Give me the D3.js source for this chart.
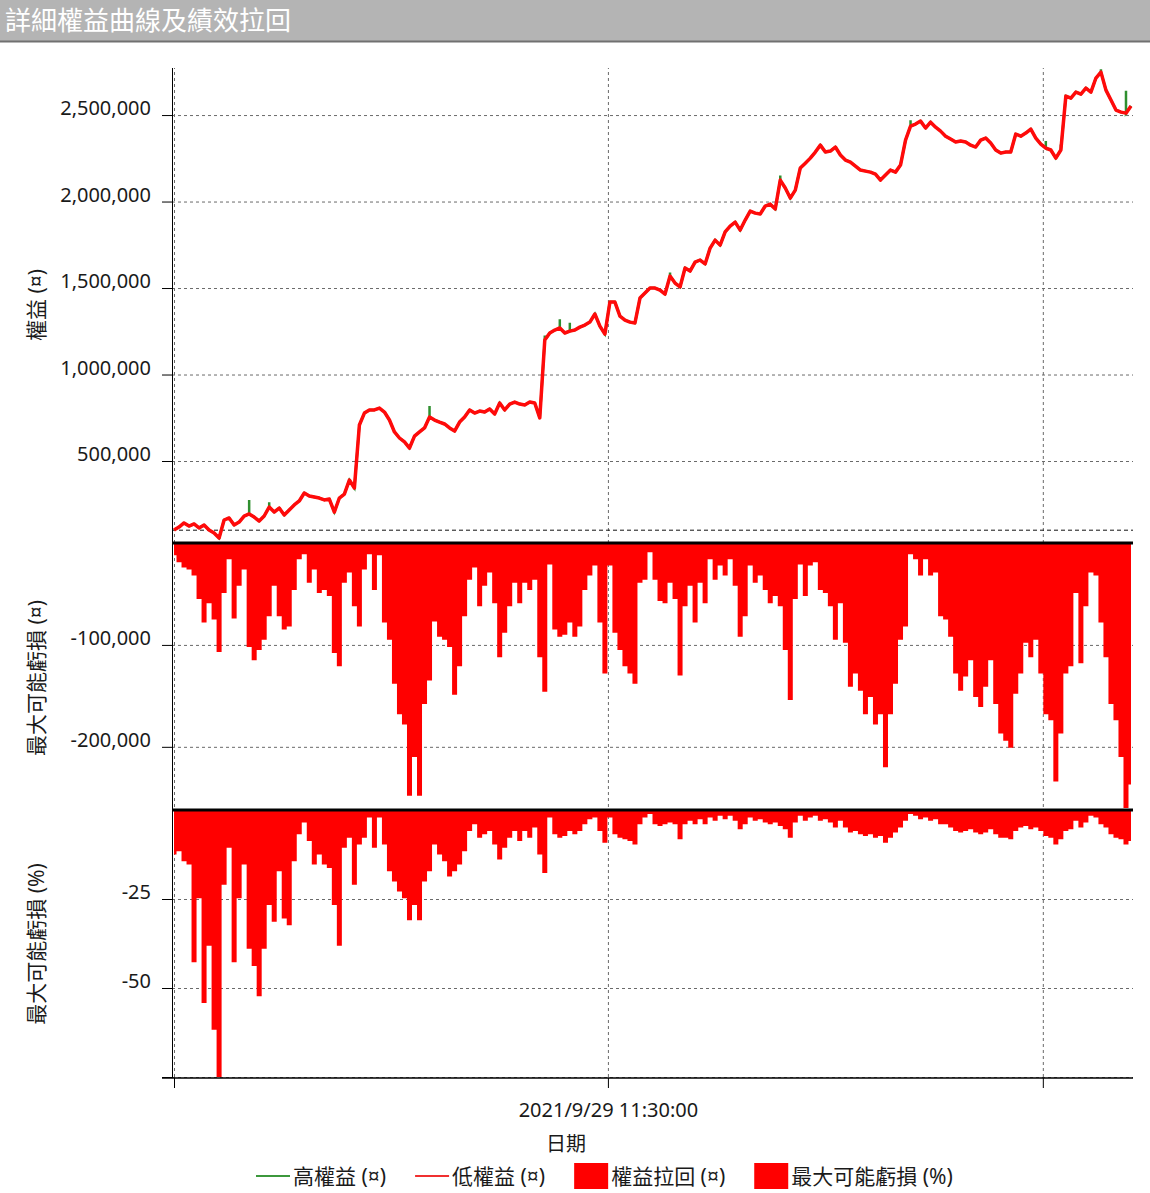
<!DOCTYPE html>
<html>
<head>
<meta charset="utf-8">
<script src="https://cdn.jsdelivr.net/npm/d3@7"></script>
<style>
  body { margin: 0; background: #fff; }
  text { font-family: "Noto Sans", "Noto Sans CJK TC", sans-serif; fill: #1a1a1a; }
</style>
</head>
<body>
<div id="chart"></div>
<script>
// equity (low) per trade, in thousands
let lowEquityK = [101,118,142,124,136,113,130,101,84,55,
    159,171,130,147,182,194,176,153,182,234,
    205,228,188,217,246,269,315,298,292,286,
    275,280,205,286,309,390,344,708,777,795,
    795,806,783,737,668,633,610,575,644,668,
    691,754,737,725,714,691,673,725,754,795,
    777,789,783,801,772,835,795,829,841,829,
    824,841,835,749,1199,1240,1257,1269,1240,1251,
    1257,1274,1286,1303,1350,1280,1234,1419,1419,1338,
    1315,1303,1298,1442,1471,1500,1500,1488,1465,1569,
    1529,1506,1616,1598,1650,1662,1639,1731,1777,1748,
    1824,1858,1881,1835,1893,1945,1933,1928,1974,1985,
    1957,2124,2078,2020,2066,2194,2222,2251,2286,2326,
    2286,2292,2315,2269,2240,2228,2205,2182,2176,2170,
    2159,2124,2153,2182,2170,2211,2355,2436,2448,2465,
    2425,2459,2430,2407,2378,2361,2344,2350,2344,2326,
    2315,2355,2367,2338,2298,2280,2286,2286,2390,2378,
    2396,2419,2367,2332,2309,2298,2251,2298,2610,2598,
    2633,2621,2656,2633,2714,2748,2644,2587,2529,2517,
    2511,2552];

// trades where the high equity pokes above the low one: [trade, value in thousands]
let highPeaksK = [[15, 275], [19, 262], [51, 818], [74, 1225], [77, 1320], [79, 1300],
    [99, 1590], [121, 2150], [147, 2470], [174, 2350], [177, 2330], [185, 2765], [190, 2640]];

// 權益拉回, in thousands
let drawdownK = [-12,-19,-24,-26,-32,-55,-78,-59,-75,-107,
    -49,-16,-74,-42,-26,-102,-115,-105,-95,-72,
    -42,-72,-85,-82,-46,-16,-11,-39,-26,-49,
    -46,-52,-108,-121,-39,-29,-62,-82,-26,-11,
    -46,-12,-78,-95,-138,-168,-178,-248,-210,-248,
    -158,-135,-77,-92,-95,-102,-149,-121,-72,-36,
    -24,-62,-42,-29,-59,-112,-88,-62,-39,-59,
    -39,-46,-36,-112,-146,-21,-85,-92,-90,-78,
    -92,-82,-46,-32,-22,-78,-128,-22,-88,-105,
    -121,-128,-138,-39,-36,-9,-36,-57,-59,-39,
    -55,-130,-62,-42,-78,-39,-59,-16,-36,-22,
    -32,-16,-42,-92,-72,-22,-39,-32,-46,-59,
    -52,-62,-105,-154,-55,-21,-52,-22,-19,-46,
    -49,-62,-95,-59,-98,-141,-128,-145,-168,-151,
    -178,-168,-220,-168,-138,-95,-82,-11,-16,-32,
    -16,-32,-29,-72,-75,-92,-128,-145,-131,-115,
    -151,-161,-141,-115,-158,-187,-194,-201,-148,-128,
    -98,-112,-95,-128,-168,-174,-234,-187,-128,-121,
    -49,-118,-62,-29,-32,-78,-112,-158,-174,-210,
    -260,-237];

// 最大可能虧損 (%)
let maxLossPct = [-12.5,-11.6,-14.4,-15.3,-42.8,-24.8,-54.2,-38.1,-61.7,-75,
    -21.0,-10.6,-42.8,-24.8,-15.3,-39.0,-43.8,-52.3,-39.0,-26.7,
    -31.4,-17.2,-30.5,-32.4,-14.4,-6.8,-3.5,-8.7,-15.3,-12.5,
    -15.3,-16.3,-26.7,-38.1,-10.6,-7.8,-21.0,-9.7,-7.8,-2.1,
    -10.6,-2.1,-9.7,-17.2,-20.1,-22.9,-24.8,-31.0,-26.7,-31.0,
    -20.1,-17.2,-9.7,-12.5,-14.4,-18.7,-17.2,-15.3,-11.6,-5.9,
    -4.0,-7.8,-6.8,-5.9,-9.7,-13.9,-10.6,-7.8,-5.9,-8.7,
    -5.9,-7.8,-4.9,-12.5,-17.7,-2.1,-6.8,-7.8,-7.3,-5.9,
    -6.8,-5.9,-4.0,-2.6,-2.1,-5.9,-9.2,-2.1,-6.8,-7.8,
    -8.2,-8.7,-9.7,-4.0,-2.1,-1.1,-4.0,-4.5,-4.0,-3.5,
    -4.0,-8.2,-4.0,-3.0,-4.0,-2.6,-4.0,-2.1,-3.0,-1.6,
    -2.6,-1.6,-3.0,-5.4,-4.0,-2.1,-3.0,-2.6,-3.5,-4.0,
    -3.5,-4.5,-5.4,-7.8,-3.5,-1.6,-3.0,-2.1,-1.6,-3.0,
    -2.6,-3.5,-4.9,-3.0,-4.9,-6.3,-5.9,-6.8,-7.3,-6.8,
    -7.8,-7.3,-9.2,-7.8,-6.3,-4.9,-3.0,-1.1,-1.6,-2.6,
    -2.1,-3.0,-2.6,-4.0,-4.0,-4.9,-5.9,-6.3,-5.9,-5.4,
    -6.3,-6.8,-6.3,-5.4,-6.8,-7.8,-7.8,-8.2,-5.9,-4.9,
    -4.5,-5.4,-4.9,-5.9,-7.3,-7.8,-9.7,-8.2,-5.9,-5.4,
    -3.0,-4.9,-3.5,-1.6,-2.1,-4.0,-4.9,-6.8,-7.8,-8.2,
    -9.7,-8.7];

let initialCapital = 100000;
let eqTicks = [500000, 1000000, 1500000, 2000000, 2500000];
let ddTicks = [-100000, -200000];
let pctTicks = [-25, -50, -75];
let pctTickLabels = ["-25", "-50", ""];
let xTickTrades = [0, 86.6, 173.4];
let xTickLabels = ["", "2021/9/29 11:30:00", ""];

let legendNames = ["高權益 (¤)", "低權益 (¤)", "權益拉回 (¤)", "最大可能虧損 (%)"];
let legendKinds = ["line", "line", "box", "box"];
let legendColors = ["#3c983c", "#f03030", "#ff0000", "#ff0000"];

const W = 1150, H = 1193;
const left = 172, right = 1133;

const svg = d3.select("#chart").append("svg")
    .attr("width", W)
    .attr("height", H);

// title bar
svg.append("rect").attr("x", 0).attr("y", 0).attr("width", W).attr("height", 41).attr("fill", "#b4b4b4");
svg.append("line").attr("x1", 0).attr("x2", W).attr("y1", 41.5).attr("y2", 41.5)
    .attr("stroke", "#707070").attr("stroke-width", 2);
svg.append("text").attr("x", 5).attr("y", 30)
    .style("font-family", '"Noto Sans CJK TC", sans-serif')
    .style("font-size", "26px").style("fill", "#fff")
    .text("詳細權益曲線及績效拉回");

const fmt = d3.formatLocale({decimal: ".", thousands: ",", grouping: [3], currency: ["", ""], minus: "-"}).format(",");

const x = d3.scaleLinear().domain([0, lowEquityK.length - 1]).range([174, 1131]);
const yEq = d3.scaleLinear().domain([26000, 2772000]).range([543, 68]);
const yDd = d3.scaleLinear().domain([-262000, 0]).range([810, 543]);
const yPct = d3.scaleLinear().domain([-75, 0]).range([1077, 810]);

// horizontal grids
function hGrid(scale, ticks) {
    svg.append("g")
        .attr("transform", "translate(" + left + ",0)")
        .call(d3.axisLeft(scale).tickValues(ticks).tickSize(-(right - left)).tickFormat(""))
        .call(g => g.select(".domain").remove())
        .call(g => g.selectAll("line").attr("stroke", "#6a6a6a").attr("stroke-dasharray", "3,3"));
}
hGrid(yEq, eqTicks);
hGrid(yDd, ddTicks);
hGrid(yPct, pctTicks);

// vertical grid
svg.append("g")
    .attr("transform", "translate(0,1077)")
    .call(d3.axisBottom(x).tickValues(xTickTrades).tickSize(-(1077 - 68)).tickFormat(""))
    .call(g => g.select(".domain").remove())
    .call(g => g.selectAll("line").attr("stroke", "#6a6a6a").attr("stroke-dasharray", "3,3"));

// initial capital line
svg.append("line")
    .attr("x1", left).attr("x2", right)
    .attr("y1", yEq(initialCapital)).attr("y2", yEq(initialCapital))
    .attr("stroke", "#111").attr("stroke-dasharray", "4,3");

// drawdown areas
svg.append("path")
    .datum(drawdownK)
    .attr("fill", "#ff0000")
    .attr("d", d3.area().curve(d3.curveStep)
        .x((d, i) => x(i)).y0(yDd(0)).y1(d => yDd(d * 1000)));

svg.append("path")
    .datum(maxLossPct)
    .attr("fill", "#ff0000")
    .attr("d", d3.area().curve(d3.curveStep)
        .x((d, i) => x(i)).y0(yPct(0)).y1(d => yPct(d)));

// equity lines: high under low, high peaks drawn as vertical ticks
let peakMap = new Map(highPeaksK);
let highPts = [];
lowEquityK.forEach((v, i) => {
    highPts.push([i, v]);
    if (peakMap.has(i)) {
        highPts.push([i, peakMap.get(i)]);
        highPts.push([i, v]);
    }
});
svg.append("path").datum(highPts)
    .attr("fill", "none").attr("stroke", "#2f8f2f").attr("stroke-width", 2.5)
    .attr("d", d3.line().x(d => x(d[0])).y(d => yEq(d[1] * 1000)));
svg.append("path").datum(lowEquityK)
    .attr("fill", "none").attr("stroke", "#ff0a0a").attr("stroke-width", 3.5)
    .attr("stroke-linejoin", "round")
    .attr("d", d3.line().x((d, i) => x(i)).y(d => yEq(d * 1000)));

// panel separators
[543, 810].forEach(yy => {
    svg.append("line").attr("x1", left).attr("x2", right).attr("y1", yy).attr("y2", yy)
        .attr("stroke", "#000").attr("stroke-width", 3);
});

// y axes - labels sit just above their tick
function yAxis(scale, ticks, format) {
    let g = svg.append("g")
        .attr("transform", "translate(" + left + ",0)")
        .call(d3.axisLeft(scale).tickValues(ticks).tickSize(10).tickPadding(11).tickFormat(format));
    g.select(".domain").remove();
    g.selectAll("text").attr("dy", "-0.02em").style("font-size", "20px").style("fill", "#1a1a1a");
}
yAxis(yEq, eqTicks, fmt);
yAxis(yDd, ddTicks, fmt);
yAxis(yPct, pctTicks, (d, i) => pctTickLabels[i]);

svg.append("line").attr("x1", left + 0.5).attr("x2", left + 0.5).attr("y1", 68).attr("y2", 1078)
    .attr("stroke", "#000");

// x axis
let xg = svg.append("g")
    .attr("transform", "translate(0,1078)")
    .call(d3.axisBottom(x).tickValues(xTickTrades).tickSize(10).tickPadding(15)
        .tickFormat((d, i) => xTickLabels[i]));
xg.select(".domain").remove();
xg.selectAll("text").style("font-size", "20px").style("fill", "#1a1a1a");
svg.append("line").attr("x1", 162).attr("x2", right).attr("y1", 1078).attr("y2", 1078)
    .attr("stroke", "#000").attr("stroke-width", 1.5);

// axis titles
function yTitle(txt, cy) {
    svg.append("text")
        .attr("transform", "translate(44," + cy + ") rotate(-90)")
        .attr("text-anchor", "middle")
        .style("font-size", "21px")
        .text(txt);
}
yTitle("權益 (¤)", 305);
yTitle("最大可能虧損 (¤)", 678);
yTitle("最大可能虧損 (%)", 944);

svg.append("text").attr("x", 566).attr("y", 1151).attr("text-anchor", "middle")
    .style("font-size", "20px").text("日期");

// legend
let lx = 256;
legendNames.forEach((name, i) => {
    if (legendKinds[i] === "line") {
        svg.append("line").attr("x1", lx).attr("x2", lx + 34).attr("y1", 1176).attr("y2", 1176)
            .attr("stroke", legendColors[i]).attr("stroke-width", 2);
    } else {
        svg.append("rect").attr("x", lx).attr("y", 1163).attr("width", 34).attr("height", 26)
            .attr("fill", legendColors[i]);
    }
    let t = svg.append("text").attr("x", lx + 37).attr("y", 1184)
        .style("font-size", "21px").text(name);
    lx = lx + 37 + t.node().getComputedTextLength() + 29;
});
</script>
</body>
</html>
